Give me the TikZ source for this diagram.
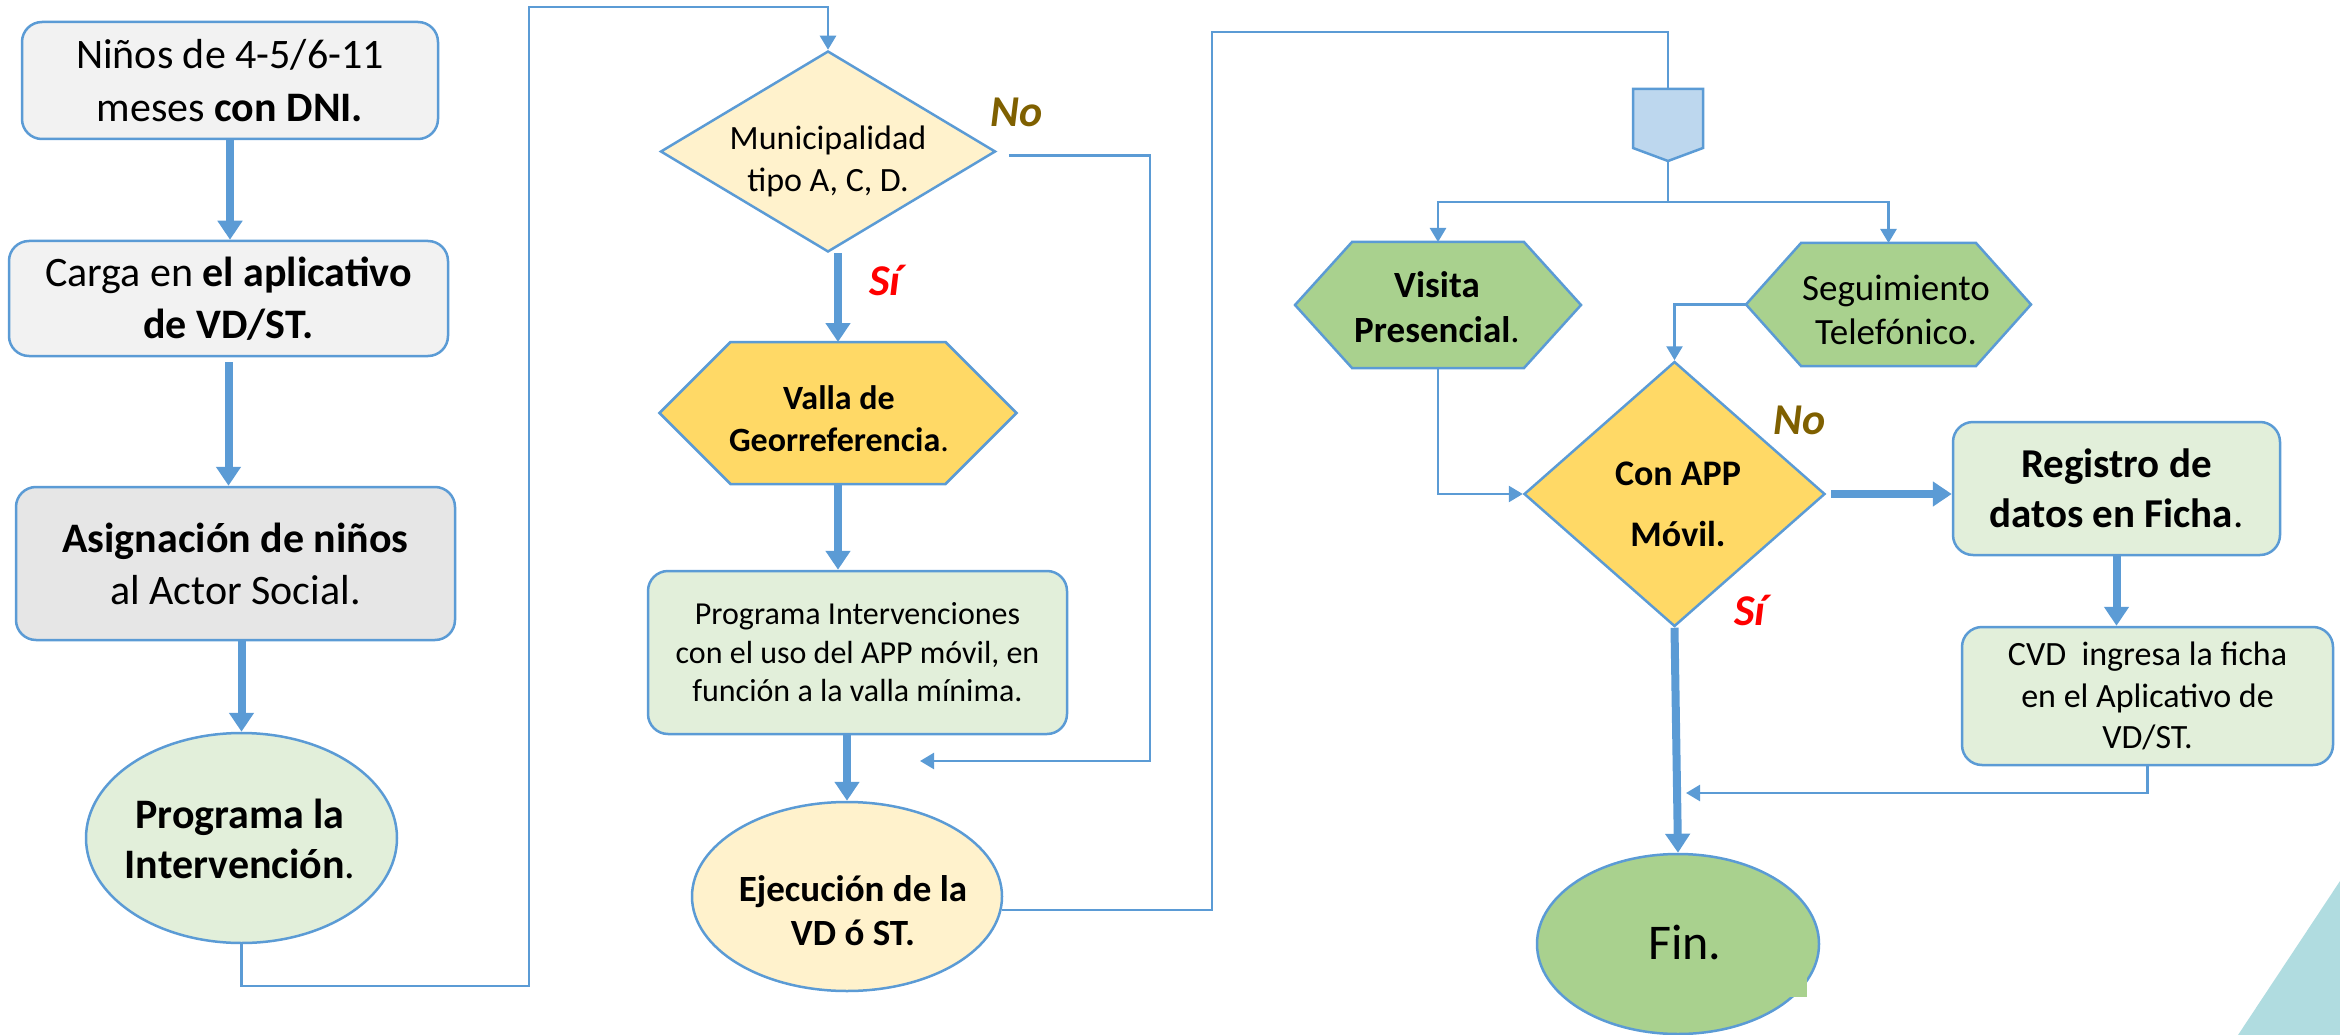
\documentclass[tikz,border=0pt]{standalone}
\usepackage{fontspec}
\setmainfont{Carlito}
\usetikzlibrary{arrows.meta,shapes.geometric,backgrounds}
\definecolor{lblue}{HTML}{5B9BD5}
\definecolor{grayA}{HTML}{F2F2F2}
\definecolor{grayB}{HTML}{E6E6E6}
\definecolor{lgreen}{HTML}{E2EFDA}
\definecolor{lyellow}{HTML}{FFF2CC}
\definecolor{gold}{HTML}{FFD966}
\definecolor{mgreen}{HTML}{A9D18E}
\definecolor{tagblue}{HTML}{BDD7EE}
\definecolor{nobrown}{HTML}{7F6000}
\definecolor{tealc}{RGB}{176,220,224}
\newcommand{\fs}[2]{\fontsize{#1}{#2}\selectfont}
\begin{document}
\begin{tikzpicture}[x=1pt,y=-1pt,
 box/.style={draw=lblue, line width=2.5pt, rounded corners=20pt, inner sep=0pt, align=center},
 shp/.style={draw=lblue, line width=2.5pt, inner sep=0pt},
 outl/.style={draw=lblue, line width=2.5pt, line join=miter},
 anch/.style={draw=none, inner sep=0pt, outer sep=0pt, rectangle},
 txt/.style={inner sep=0pt, align=center},
 conn/.style={draw=lblue, line width=2.5pt},
 thn/.style={conn, -{Triangle[length=14pt,width=16pt]}},
 thk/.style={draw=lblue, line width=8pt, -{Triangle[length=19pt,width=24pt]}},
 lbl/.style={inner sep=0pt, font=\fs{44}{53}\bfseries\itshape},
]
\useasboundingbox (0,0) rectangle (2340,1035);

% left column
\node[box, fill=grayA, minimum width=416pt, minimum height=117pt, font=\fs{42}{53}] (b1) at (230,80.5) {Niños de 4-5/6-11\\meses \textbf{con DNI.}};
\node[box, fill=grayA, minimum width=439pt, minimum height=115pt, font=\fs{42}{52}] (b2) at (228.5,298.5) {Carga en \textbf{el aplicativo}\\\textbf{de VD/ST.}};
\node[box, fill=grayB, minimum width=439pt, minimum height=153pt, font=\fs{42}{52}] (b3) at (235.5,563.5) {\textbf{Asignación de niños}\\al Actor Social.};
\node[ellipse, shp, fill=lgreen, minimum width=311pt, minimum height=210pt] (e1) at (241.5,838) {};
\node[txt, font=\fs{42}{50}] (e1t) at (240,838.5) {\textbf{Programa la}\\\textbf{Intervención}.};

% second column
\node[diamond, shp, fill=lyellow, minimum width=335pt, minimum height=201pt] (d1) at (828,151.5) {};
\node[txt, font=\fs{34}{42}] (d1t) at (828,161) {Municipalidad\\tipo A, C, D.};
\node[anch, minimum width=357pt, minimum height=142pt] (h1) at (838,413) {};
\node[box, fill=lgreen, minimum width=419pt, minimum height=163pt, font=\fs{32}{38.5}] (b4) at (857.5,652.5) {Programa Intervenciones\\con el uso del APP móvil, en\\función a la valla mínima.};
\node[ellipse, shp, fill=lyellow, minimum width=310pt, minimum height=189pt] (e2) at (847,896.5) {};
\node[txt, font=\fs{37}{44}] (e2t) at (853,911) {\textbf{Ejecución de la}\\\textbf{VD ó ST.}};

% right part
\node[anch, minimum width=70pt, minimum height=72pt] (tag) at (1668,125) {};
\node[anch, minimum width=286pt, minimum height=126pt] (h2) at (1438,305) {};
\node[anch, minimum width=285pt, minimum height=123pt] (h3) at (1888.5,304.5) {};
\node[diamond, shp, fill=gold, minimum width=301pt, minimum height=265pt] (d2) at (1674.5,494) {};
\node[txt, font=\fs{36}{61}] (d2t) at (1678,504) {\textbf{Con APP}\\\textbf{Móvil.}};
\node[box, fill=lgreen, minimum width=327pt, minimum height=133pt, font=\fs{41}{50}] (b5) at (2116.5,488.5) {\textbf{Registro de}\\\textbf{datos en Ficha}.};
\node[box, fill=lgreen, minimum width=371pt, minimum height=138pt, font=\fs{34}{41.5}] (b6) at (2147.5,696) {CVD~~ingresa la ficha\\en el Aplicativo de\\VD/ST.};
\node[ellipse, shp, fill=mgreen, minimum width=282pt, minimum height=180pt] (e3) at (1678,944) {};
\fill[mgreen] (1788,977) rectangle (1807,997);
\node[txt, font=\fs{50}{60}] (e3t) at (1685,942) {Fin.};

\begin{scope}[on background layer]
\draw[outl, fill=gold] (h1.west) -- ([xshift=71pt]h1.north west) -- ([xshift=-71pt]h1.north east) -- (h1.east) -- ([xshift=-71pt]h1.south east) -- ([xshift=71pt]h1.south west) -- cycle;
\draw[outl, fill=mgreen] (h2.west) -- ([xshift=57pt]h2.north west) -- ([xshift=-57pt]h2.north east) -- (h2.east) -- ([xshift=-57pt]h2.south east) -- ([xshift=57pt]h2.south west) -- cycle;
\draw[outl, fill=mgreen] (h3.west) -- ([xshift=55pt]h3.north west) -- ([xshift=-55pt]h3.north east) -- (h3.east) -- ([xshift=-55pt]h3.south east) -- ([xshift=55pt]h3.south west) -- cycle;
\draw[outl, fill=tagblue] (tag.north west) -- (tag.north east) -- ([yshift=13pt]tag.south east) -- (tag.south) -- ([yshift=13pt]tag.south west) -- cycle;
\end{scope}

\node[txt, font=\fs{34}{42}] (h1t) at (839,419) {\textbf{Valla de}\\\textbf{Georreferencia}.};
\node[txt, font=\fs{37}{45}] (h2t) at (1437,307.5) {\textbf{Visita}\\\textbf{Presencial}.};
\node[txt, font=\fs{37}{44}] (h3t) at (1896,310) {Seguimiento\\Telefónico.};

% labels
\node[lbl, text=nobrown] (no1) at (1017,112) {No};
\node[lbl, text=red] (si1) at (885,280) {Sí};
\node[lbl, text=nobrown] (no2) at (1800,420) {No};
\node[lbl, text=red] (si2) at (1750,610) {Sí};

% bend points
\coordinate (k1) at (529,986);
\coordinate (k2) at (529,7);
\coordinate (k3) at (1150,761);
\coordinate (k4) at (920,761);
\coordinate (k5) at (1212,32);
\coordinate (sp) at (1668,202);
\coordinate (k6) at (1686,793);

% connectors
\draw[thk] (b1.south) -- (b1.south |- b2.north);
\draw[thk, shorten <=5pt] (b2.south) -- (b2.south |- b3.north);
\draw[thk] (e1.north |- b3.south) -- (e1.north);
\draw[thn] (e1.south) |- (k1) -- (k2) -| (d1.north);
\draw[thk] (h1.north |- d1.south) -- (h1.north);
\draw[thn] ([xshift=12pt,yshift=-4pt]d1.east) -| (k3) -- (k4);
\draw[thk] (h1.south) -- (h1.south |- b4.north);
\draw[thk] (e2.north |- b4.south) -- (e2.north);
\draw[conn] (e2.-5) -| (k5) -| (tag.north);
\draw[conn] (tag.south) -- (sp);
\draw[thn] (sp) -| (h2.north);
\draw[thn] (sp) -| (h3.north);
\draw[thn] (h3.west) -| (d2.north);
\draw[thn] (h2.south) |- (d2.west);
\draw[thk, shorten <=5pt] (d2.east) -- (d2.east -| b5.west);
\draw[thk] (d2.south) -- (e3.north);
\draw[thk] (b5.south) -- (b5.south |- b6.north);
\draw[thn] (b6.south) |- (k6);

% corner decoration
\fill[tealc] (2340,881) -- (2340,1035) -- (2238,1035) -- cycle;
\end{tikzpicture}
\end{document}
